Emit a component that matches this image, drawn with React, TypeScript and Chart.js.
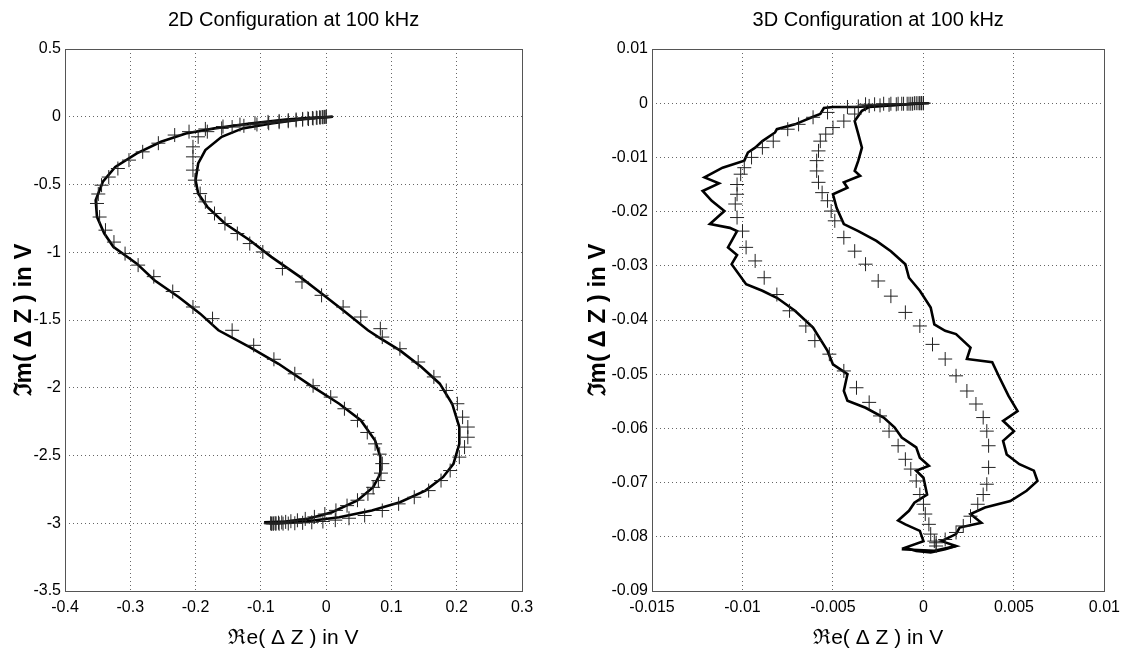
import React, { useEffect, useRef } from "react";
import { Chart, registerables } from "chart.js";

Chart.register(...registerables);

// ---------- Left chart (2D) ----------
const leftTitle = "2D Configuration at 100 kHz";
const leftXTicks = [-0.4, -0.3, -0.2, -0.1, 0, 0.1, 0.2, 0.3];
const leftXTickLabels = ["-0.4", "-0.3", "-0.2", "-0.1", "0", "0.1", "0.2", "0.3"];
const leftYTicks = [0.5, 0, -0.5, -1, -1.5, -2, -2.5, -3, -3.5];
const leftYTickLabels = ["0.5", "0", "-0.5", "-1", "-1.5", "-2", "-2.5", "-3", "-3.5"];

// solid line: outer-left branch ending as inner-right branch
const leftLine1: number[][] = [
  [0.01, 0], [-0.03, -0.01], [-0.062, -0.02], [-0.117, -0.05], [-0.171, -0.086], [-0.215, -0.123],
  [-0.253, -0.185], [-0.29, -0.27], [-0.323, -0.37], [-0.342, -0.48], [-0.353, -0.616], [-0.351, -0.739],
  [-0.34, -0.86], [-0.326, -0.96], [-0.29, -1.084], [-0.263, -1.207], [-0.226, -1.33], [-0.193, -1.453],
  [-0.165, -1.576], [-0.117, -1.7], [-0.073, -1.823], [-0.024, -1.983], [0.02, -2.118], [0.053, -2.24],
  [0.075, -2.39], [0.083, -2.51], [0.083, -2.635], [0.072, -2.734], [0.048, -2.832], [0.009, -2.919],
  [-0.029, -2.968], [-0.062, -2.988], [-0.095, -2.993],
];
// solid line: inner-left branch ending as outer-right branch
const leftLine2: number[][] = [
  [0.01, 0], [-0.03, -0.015], [-0.084, -0.05], [-0.128, -0.086], [-0.16, -0.148], [-0.185, -0.246],
  [-0.196, -0.345], [-0.2, -0.468], [-0.196, -0.567], [-0.182, -0.665], [-0.155, -0.788], [-0.117, -0.911],
  [-0.084, -1.034], [-0.04, -1.182], [-0.007, -1.305], [0.026, -1.428], [0.064, -1.576], [0.08, -1.626],
  [0.113, -1.724], [0.146, -1.847], [0.174, -1.97], [0.193, -2.118], [0.204, -2.29], [0.204, -2.414],
  [0.195, -2.562], [0.179, -2.66], [0.152, -2.759], [0.113, -2.845], [0.07, -2.906], [0.02, -2.956],
  [-0.029, -2.985], [-0.084, -2.995],
];
// '+' markers following the outer-left branch
const leftMarks1: number[][] = [
  [0, 0], [-0.003, -0.001], [-0.006, -0.002], [-0.01, -0.004], [-0.015, -0.006], [-0.021, -0.009],
  [-0.028, -0.012], [-0.036, -0.016], [-0.046, -0.02], [-0.058, -0.025], [-0.072, -0.031], [-0.089, -0.038],
  [-0.109, -0.047], [-0.132, -0.058], [-0.158, -0.072], [-0.185, -0.09], [-0.21, -0.11], [-0.232, -0.135],
  [-0.257, -0.195], [-0.281, -0.259], [-0.302, -0.32], [-0.319, -0.382], [-0.333, -0.445], [-0.344, -0.505],
  [-0.349, -0.57], [-0.351, -0.64], [-0.347, -0.74], [-0.338, -0.837], [-0.325, -0.925], [-0.308, -1.01],
  [-0.288, -1.095], [-0.264, -1.18], [-0.235, -1.29], [-0.204, -1.404], [-0.174, -1.49], [-0.144, -1.576],
  [-0.111, -1.687], [-0.08, -1.79], [-0.048, -1.897], [-0.02, -1.985], [0.007, -2.069], [0.028, -2.155],
  [0.048, -2.241], [0.063, -2.33], [0.075, -2.414], [0.082, -2.49], [0.086, -2.56], [0.084, -2.63],
  [0.08, -2.685], [0.072, -2.735], [0.064, -2.783], [0.048, -2.83], [0.032, -2.87], [0.015, -2.905],
  [-0.002, -2.932], [-0.018, -2.953], [-0.032, -2.968], [-0.044, -2.978], [-0.054, -2.985], [-0.062, -2.99],
  [-0.068, -2.994], [-0.073, -2.996], [-0.077, -2.998], [-0.08, -2.999], [-0.083, -3.0], [-0.085, -3.0],
];
// '+' markers following the inner-left branch
const leftMarks2: number[][] = [
  [0, 0], [-0.002, -0.002], [-0.005, -0.004], [-0.009, -0.006], [-0.014, -0.009], [-0.02, -0.013],
  [-0.027, -0.017], [-0.036, -0.022], [-0.046, -0.027], [-0.058, -0.033], [-0.072, -0.04], [-0.088, -0.048],
  [-0.106, -0.057], [-0.126, -0.067], [-0.144, -0.076], [-0.16, -0.086], [-0.182, -0.11], [-0.196, -0.148],
  [-0.204, -0.222], [-0.204, -0.296], [-0.204, -0.394], [-0.201, -0.468], [-0.193, -0.567], [-0.185, -0.628],
  [-0.171, -0.714], [-0.155, -0.788], [-0.136, -0.862], [-0.117, -0.936], [-0.097, -0.998], [-0.067, -1.12],
  [-0.037, -1.219], [-0.007, -1.318], [0.026, -1.404], [0.053, -1.478], [0.083, -1.564], [0.086, -1.626],
  [0.113, -1.712], [0.141, -1.81], [0.165, -1.92], [0.184, -2.02], [0.201, -2.118], [0.209, -2.217],
  [0.217, -2.29], [0.217, -2.365], [0.212, -2.438], [0.204, -2.512], [0.19, -2.611], [0.176, -2.685],
  [0.157, -2.759], [0.135, -2.808], [0.111, -2.857], [0.086, -2.906], [0.059, -2.943], [0.035, -2.963],
  [0.014, -2.977], [-0.005, -2.987], [-0.022, -2.993], [-0.036, -2.997], [-0.048, -3.0], [-0.058, -3.002],
  [-0.066, -3.003], [-0.072, -3.004], [-0.077, -3.005], [-0.081, -3.005], [-0.084, -3.005],
];

// ---------- Right chart (3D) ----------
const rightTitle = "3D Configuration at 100 kHz";
const rightXTicks = [-0.015, -0.01, -0.005, 0, 0.005, 0.01];
const rightXTickLabels = ["-0.015", "-0.01", "-0.005", "0", "0.005", "0.01"];
const rightYTicks = [0.01, 0, -0.01, -0.02, -0.03, -0.04, -0.05, -0.06, -0.07, -0.08, -0.09];
const rightYTickLabels = ["0.01", "0", "-0.01", "-0.02", "-0.03", "-0.04", "-0.05", "-0.06", "-0.07", "-0.08", "-0.09"];

const rightLine1: number[][] = [
  [0.0003, 0], [-0.001, -0.0002], [-0.0026, -0.0005], [-0.0038, -0.0007], [-0.005, -0.0007], [-0.0055, -0.0009],
  [-0.0057, -0.002], [-0.0061, -0.0025], [-0.0071, -0.0039], [-0.0081, -0.0048], [-0.0082, -0.0054], [-0.0089, -0.007],
  [-0.0093, -0.0082], [-0.0097, -0.0091], [-0.0099, -0.0106], [-0.0111, -0.0119], [-0.0121, -0.0137], [-0.0113, -0.0148],
  [-0.0122, -0.0162], [-0.0117, -0.018], [-0.011, -0.0199], [-0.0118, -0.0223], [-0.0107, -0.023], [-0.0103, -0.0236],
  [-0.0108, -0.0266], [-0.0103, -0.028], [-0.0106, -0.0297], [-0.0098, -0.0334], [-0.0089, -0.0346], [-0.0081, -0.0359],
  [-0.0071, -0.0383], [-0.0061, -0.0414], [-0.0053, -0.0457], [-0.005, -0.0482], [-0.0042, -0.05], [-0.0044, -0.0531],
  [-0.0042, -0.0549], [-0.0032, -0.0562], [-0.0022, -0.058], [-0.0016, -0.0598], [-0.0012, -0.0617], [-0.0004, -0.0635],
  [-0.0002, -0.0654], [0.0003, -0.0669], [-0.0004, -0.0678], [0, -0.0691], [0.0002, -0.0722], [-0.0005, -0.0737],
  [-0.0008, -0.0752], [-0.0014, -0.077], [-0.001, -0.0777], [-0.0002, -0.0789], [0, -0.0808], [-0.001, -0.082],
  [-0.0004, -0.0826], [0.0004, -0.0829], [0.0012, -0.0823], [0.0018, -0.0817],
];
const rightLine2: number[][] = [
  [0, 0], [-0.0022, -0.0005], [-0.003, -0.0007], [-0.0034, -0.0014], [-0.0038, -0.0033], [-0.0036, -0.0057],
  [-0.0034, -0.0082], [-0.0036, -0.0106], [-0.0038, -0.0125], [-0.0035, -0.0134], [-0.0044, -0.0146], [-0.0042, -0.0156],
  [-0.005, -0.0168], [-0.0048, -0.0193], [-0.0044, -0.0223], [-0.0036, -0.0236], [-0.0026, -0.0254], [-0.0018, -0.0273],
  [-0.001, -0.0297], [-0.0008, -0.0322], [-0.0002, -0.0346], [0.0004, -0.0377], [0.0006, -0.0408], [0.0012, -0.042],
  [0.0018, -0.0426], [0.0026, -0.0451], [0.0024, -0.0472], [0.0038, -0.0478], [0.0042, -0.0506], [0.0047, -0.054],
  [0.0052, -0.0568], [0.0044, -0.0586], [0.005, -0.0605], [0.0044, -0.0623], [0.0046, -0.0648], [0.0053, -0.0666],
  [0.0061, -0.0678], [0.0063, -0.0697], [0.0057, -0.0715], [0.0048, -0.0734], [0.0034, -0.0746], [0.0026, -0.0758],
  [0.0032, -0.0774], [0.002, -0.0783], [0.0018, -0.0795], [0.001, -0.0808], [0.0018, -0.0817], [0.0006, -0.0826],
  [-0.0012, -0.0823],
];
const rightMarks1: number[][] = [
  [0, 0], [-0.0001, 0], [-0.0002, 0], [-0.0003, 0], [-0.0005, 0], [-0.0007, -0.0001], [-0.0009, -0.0001],
  [-0.0012, -0.0001], [-0.0015, -0.0002], [-0.0019, -0.0003], [-0.0024, -0.0004], [-0.003, -0.0005], [-0.0036, -0.0006],
  [-0.0042, -0.0007], [-0.0053, -0.0017], [-0.0061, -0.0026], [-0.0069, -0.0039], [-0.0075, -0.0048], [-0.0083, -0.007],
  [-0.0089, -0.0082], [-0.0095, -0.01], [-0.0099, -0.0119], [-0.0101, -0.0131], [-0.0103, -0.015], [-0.0103, -0.0168],
  [-0.0104, -0.0186], [-0.0103, -0.0211], [-0.01, -0.0236], [-0.0098, -0.0266], [-0.0093, -0.0291], [-0.0088, -0.0322],
  [-0.0081, -0.0353], [-0.0074, -0.0383], [-0.0065, -0.0411], [-0.006, -0.0438], [-0.0052, -0.0463], [-0.0044, -0.0494],
  [-0.0037, -0.0525], [-0.003, -0.0552], [-0.0024, -0.0577], [-0.0019, -0.0605], [-0.0014, -0.0632], [-0.001, -0.0657],
  [-0.0007, -0.0675], [-0.0004, -0.0697], [-0.0002, -0.0722], [0, -0.074], [0.0001, -0.0758], [0.0003, -0.0777],
  [0.0004, -0.0795], [0.0006, -0.0808], [0.0007, -0.0817],
];
const rightMarks2: number[][] = [
  [0, 0], [-0.0001, 0], [-0.0002, 0], [-0.0004, 0], [-0.0006, -0.0001], [-0.0008, -0.0001], [-0.0011, -0.0001],
  [-0.0014, -0.0001], [-0.0018, -0.0001], [-0.0022, -0.0001], [-0.0027, -0.0002], [-0.0032, -0.0002], [-0.0038, -0.002],
  [-0.0044, -0.0033], [-0.005, -0.0045], [-0.0054, -0.0057], [-0.0057, -0.007], [-0.0058, -0.0088], [-0.0059, -0.0106],
  [-0.0059, -0.0125], [-0.0058, -0.0146], [-0.0056, -0.0165], [-0.0053, -0.018], [-0.0051, -0.0199], [-0.0049, -0.0217],
  [-0.0044, -0.0248], [-0.0038, -0.0273], [-0.0032, -0.0297], [-0.0025, -0.0328], [-0.0018, -0.0356], [-0.001, -0.0386],
  [-0.0002, -0.0411], [0.0005, -0.0445], [0.0012, -0.0472], [0.0018, -0.0503], [0.0024, -0.0531], [0.0029, -0.0555],
  [0.0033, -0.058], [0.0035, -0.0605], [0.0036, -0.0632], [0.0036, -0.0672], [0.0035, -0.0703], [0.0033, -0.0722],
  [0.003, -0.074], [0.0026, -0.0762], [0.0022, -0.078], [0.0018, -0.0792], [0.0012, -0.0805], [0.0007, -0.0811],
];

const xAxisLabel = "\u211Ce( \u0394 Z ) in V";
const yAxisLabel = "\u2111m( \u0394 Z ) in V";

const FONT = "'Liberation Sans Narrow', 'Arial Narrow', 'Liberation Sans', Arial, sans-serif";

const toPts = (arr: number[][]) => arr.map(([x, y]) => ({ x, y }));

const frameBox = {
  id: "frameBox",
  afterDraw(chart: any) {
    const { ctx, chartArea } = chart;
    ctx.save();
    ctx.strokeStyle = "#555";
    ctx.lineWidth = 1;
    ctx.strokeRect(
      Math.round(chartArea.left) + 0.5,
      Math.round(chartArea.top) + 0.5,
      Math.round(chartArea.right - chartArea.left),
      Math.round(chartArea.bottom - chartArea.top)
    );
    ctx.restore();
  },
};

type Cfg = {
  title: string;
  xTicks: number[];
  xLabels: string[];
  yTicks: number[];
  yLabels: string[];
  line1: number[][];
  line2: number[][];
  marks1: number[][];
  marks2: number[][];
  yAxisWidth: number;
  rightPad: number;
  yTitlePad: number;
};

function makeConfig(c: Cfg): any {
  const markerDs = (d: number[][]) => ({
    data: toPts(d),
    showLine: false,
    pointStyle: "cross",
    pointRadius: 7,
    pointBorderWidth: 1,
    pointBorderColor: "#222",
    pointBackgroundColor: "#222",
    borderColor: "#222",
  });
  const lineDs = (d: number[][]) => ({
    data: toPts(d),
    showLine: true,
    borderColor: "#000",
    borderWidth: 2.6,
    pointRadius: 0,
    tension: 0,
    fill: false,
  });
  return {
    type: "scatter",
    data: {
      datasets: [markerDs(c.marks1), markerDs(c.marks2), lineDs(c.line1), lineDs(c.line2)],
    },
    options: {
      responsive: false,
      animation: false,
      events: [],
      layout: { padding: { left: 0, top: 0, right: c.rightPad, bottom: 0 } },
      plugins: {
        legend: { display: false },
        tooltip: { enabled: false },
        title: {
          display: true,
          text: c.title,
          fullSize: false,
          color: "#000",
          font: { family: FONT, size: 20, weight: "normal", lineHeight: 1.2 },
          padding: { top: 8, bottom: 17 },
        },
      },
      scales: {
        x: {
          type: "linear",
          position: "bottom",
          min: c.xTicks[0],
          max: c.xTicks[c.xTicks.length - 1],
          afterBuildTicks: (s: any) => {
            s.ticks = c.xTicks.map((v) => ({ value: v }));
          },
          afterFit: (s: any) => {
            s.height = 68;
          },
          ticks: {
            autoSkip: false,
            maxRotation: 0,
            color: "#000",
            padding: 7,
            font: { family: FONT, size: 16 },
            callback: (v: number) => {
              const i = c.xTicks.findIndex((t) => Math.abs(t - v) < 1e-9);
              return i >= 0 ? c.xLabels[i] : "";
            },
          },
          grid: { color: "#666", lineWidth: 1, drawTicks: false },
          border: { display: false, dash: [1, 3] },
          title: {
            display: true,
            text: xAxisLabel,
            color: "#000",
            font: { family: FONT, size: 21, lineHeight: 1.2 },
            padding: { top: 0, bottom: 8 },
          },
        },
        y: {
          type: "linear",
          position: "left",
          min: c.yTicks[c.yTicks.length - 1],
          max: c.yTicks[0],
          afterBuildTicks: (s: any) => {
            s.ticks = c.yTicks.slice().reverse().map((v) => ({ value: v }));
          },
          afterFit: (s: any) => {
            s.width = c.yAxisWidth;
          },
          ticks: {
            autoSkip: false,
            color: "#000",
            padding: 4,
            font: { family: FONT, size: 16 },
            callback: (v: number) => {
              const i = c.yTicks.findIndex((t) => Math.abs(t - v) < 1e-9);
              return i >= 0 ? c.yLabels[i] : "";
            },
          },
          grid: { color: "#666", lineWidth: 1, drawTicks: false },
          border: { display: false, dash: [1, 3] },
          title: {
            display: true,
            text: yAxisLabel,
            color: "#000",
            font: { family: FONT, size: 24, weight: "bold", lineHeight: 1.2 },
            padding: { top: c.yTitlePad, bottom: 0 },
          },
        },
      },
    },
    plugins: [frameBox],
  };
}

function ChartCanvas({ cfg, width, height }: { cfg: Cfg; width: number; height: number }) {
  const ref = useRef<HTMLCanvasElement | null>(null);
  useEffect(() => {
    if (!ref.current) return;
    const chart = new Chart(ref.current, makeConfig(cfg));
    return () => chart.destroy();
  }, []);
  return <canvas ref={ref} width={width} height={height} style={{ display: "block", width, height }} />;
}

const leftCfg: Cfg = {
  title: leftTitle,
  xTicks: leftXTicks,
  xLabels: leftXTickLabels,
  yTicks: leftYTicks,
  yLabels: leftYTickLabels,
  line1: leftLine1,
  line2: leftLine2,
  marks1: leftMarks1,
  marks2: leftMarks2,
  yAxisWidth: 65,
  rightPad: 41,
  yTitlePad: 10,
};

const rightCfg: Cfg = {
  title: rightTitle,
  xTicks: rightXTicks,
  xLabels: rightXTickLabels,
  yTicks: rightYTicks,
  yLabels: rightYTickLabels,
  line1: rightLine1,
  line2: rightLine2,
  marks1: rightMarks1,
  marks2: rightMarks2,
  yAxisWidth: 89,
  rightPad: 19,
  yTitlePad: 21,
};

export default function App() {
  return (
    <div style={{ position: "fixed", left: 0, top: 0, width: 1127, height: 659, background: "#fff" }}>
      <div style={{ position: "absolute", left: 0, top: 0 }}>
        <ChartCanvas cfg={leftCfg} width={563} height={659} />
      </div>
      <div style={{ position: "absolute", left: 563, top: 0 }}>
        <ChartCanvas cfg={rightCfg} width={564} height={659} />
      </div>
    </div>
  );
}
